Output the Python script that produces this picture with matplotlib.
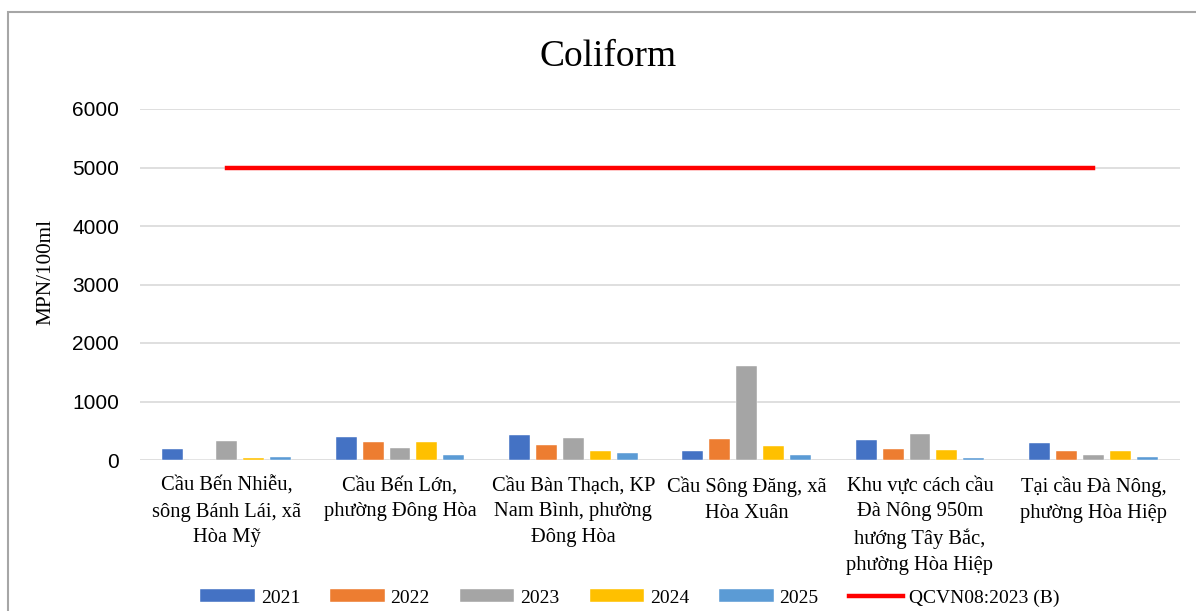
import matplotlib
matplotlib.use("Agg")
import matplotlib.pyplot as plt
import numpy as np
from matplotlib.patches import Rectangle

categories = [
    "Cầu Bến Nhiễu,\nsông Bánh Lái, xã\nHòa Mỹ",
    "Cầu Bến Lớn,\nphường Đông Hòa",
    "Cầu Bàn Thạch, KP\nNam Bình, phường\nĐông Hòa",
    "Cầu Sông Đăng, xã\nHòa Xuân",
    "Khu vực cách cầu\nĐà Nông 950m\nhướng Tây Bắc,\nphường Hòa Hiệp",
    "Tại cầu Đà Nông,\nphường Hòa Hiệp",
]
years = ["2021", "2022", "2023", "2024", "2025"]
v2021 = [180, 390, 430, 160, 350, 290]
v2022 = [0, 300, 250, 360, 190, 160]
v2023 = [330, 200, 380, 1610, 450, 90]
v2024 = [35, 300, 150, 240, 170, 160]
v2025 = [55, 90, 120, 90, 40, 50]
limit_label = "QCVN08:2023 (B)"
limit_value = [5000] * 6
yticks = [0, 1000, 2000, 3000, 4000, 5000, 6000]

colors = ["#4472C4", "#ED7D31", "#A5A5A5", "#FFC000", "#5B9BD5"]
serif = "Liberation Serif"
sans = "Liberation Sans"

fig = plt.figure(figsize=(11.96, 6.11), dpi=100)
fig.patches.append(Rectangle((8 / 1196, -0.05), 1.2, 1 - 12 / 611 + 0.05,
                             transform=fig.transFigure, fill=False,
                             edgecolor="#A6A6A6", linewidth=1.5))
ax = fig.add_axes([140 / 1196, 1 - 460 / 611, 1040 / 1196, (460 - 109) / 611])

x = np.arange(len(categories))
series = [v2021, v2022, v2023, v2024, v2025]
width = 0.121
step = 0.155
bar_handles = []
for i, (vals, c, lab) in enumerate(zip(series, colors, years)):
    h = ax.bar(x + (i - 2) * step, vals, width=width, color=c, label=lab,
               edgecolor="white", linewidth=0.3, zorder=3)
    bar_handles.append(h)
line_handle, = ax.plot(x, limit_value, color="#FF0000", linewidth=3.2,
                       label=limit_label, zorder=4)

ax.set_xlim(-0.5, len(categories) - 0.5)
ax.set_ylim(0, 6000)
ax.set_yticks(yticks)
ax.yaxis.grid(True, color="#D9D9D9", linewidth=1.2, zorder=0)
for s in ax.spines.values():
    s.set_visible(False)
ax.tick_params(axis="both", length=0)
ax.set_yticklabels([str(t) for t in yticks], fontfamily=sans, fontsize=15)
ax.tick_params(axis="y", pad=15)
ax.set_xticks(x)
ax.set_xticklabels(categories, fontfamily=serif, fontsize=14.8, linespacing=1.47)
ax.tick_params(axis="x", pad=12)

fig.text(46 / 1196, 1 - 272 / 611, "MPN/100ml", fontfamily=serif, fontsize=15.3,
         rotation=90, ha="center", va="center")
fig.text(608 / 1196, 1 - 57 / 611, "Coliform", fontfamily=serif, fontsize=27,
         ha="center", va="center")

fig.legend(bar_handles + [line_handle], years + [limit_label],
           loc="center", bbox_to_anchor=(630 / 1196, 1 - 598 / 611), ncol=6,
           frameon=False, prop={"family": serif, "size": 14},
           handlelength=2.8, handleheight=0.65, columnspacing=1.55,
           handletextpad=0.3)

fig.savefig("out.png", dpi=100)
